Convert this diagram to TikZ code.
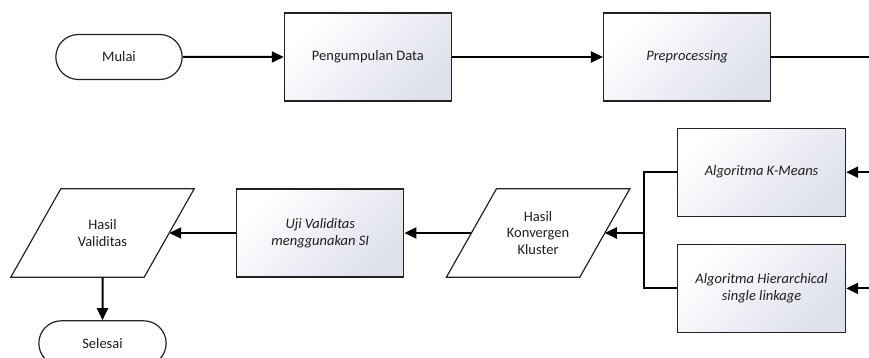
\documentclass[tikz,border=0pt]{standalone}
\usepackage{fontspec}
\setmainfont{Carlito}
\usetikzlibrary{shapes.misc, arrows.meta, positioning, calc}
\definecolor{boxShade}{RGB}{222,224,236}
\definecolor{lineDark}{RGB}{35,35,35}
\definecolor{textDark}{RGB}{30,30,30}
\tikzset{
    % Base Block Style
    process/.style={
        rectangle,
        minimum width=167pt,
        minimum height=88pt,
        align=center,
        font=\fontsize{14.5}{16.5}\selectfont,
        text=textDark,
        draw=lineDark,
        line width=1.2pt,
        top color=boxShade, bottom color=white, shading angle=225
    },
    processIt/.style={process, font=\fontsize{14.5}{16.5}\selectfont\itshape},
    % Start / End and Data Styles
    terminal/.style={
        rounded rectangle,
        minimum width=133pt,
        minimum height=45pt,
        font=\fontsize{14.5}{16.5}\selectfont,
        text=textDark,
        draw=lineDark,
        line width=1.2pt,
        fill=white
    },
    % Data (parallelogram) drawn around a plain rectangle node
    iobox/.style={
        rectangle,
        minimum width=133pt,
        minimum height=88pt,
        align=center,
        font=\fontsize{14.5}{16.5}\selectfont,
        text=textDark,
        append after command={\pgfextra{
            \draw [draw=lineDark, line width=1.2pt, line join=miter]
                ([xshift=-25pt]\tikzlastnode.south west) --
                ([xshift=25pt]\tikzlastnode.north west) --
                ([xshift=25pt]\tikzlastnode.north east) --
                ([xshift=-25pt]\tikzlastnode.south east) -- cycle;
        }}
    },
    % Arrow & Line Styles
    arrow/.style={-{Triangle[length=12pt, width=11pt]}, line width=2pt, draw=black},
    link/.style={line width=2pt, draw=black}
}

\begin{document}
\begin{tikzpicture}[x=1pt, y=1pt]

    \useasboundingbox (0,0) rectangle (869,358);
    \clip (0,0) rectangle (869,358);

    % --- TOP ROW ---
    \node (start) [terminal] at (119,301) {Mulai};
    \node (collect) [process, right=101pt of start] {Pengumpulan Data};
    \node (prep) [processIt, right=151pt of collect] {Preprocessing};

    % --- CLUSTERING (Right Column) ---
    \node (kmeans) [processIt, below=26pt of prep, xshift=74.5pt, minimum width=168pt] {Algoritma K-Means};
    \node (single) [processIt, below=27pt of kmeans, minimum width=168pt] {Algoritma Hierarchical\\single linkage};

    % --- BOTTOM ROW (Right to Left) ---
    \node (valRes) [iobox] at (102.5,125) {Hasil\\Validitas};
    \node (validity) [processIt, right=67pt of valRes] {Uji Validitas\\menggunakan SI};
    \node (cluster) [iobox, right=67pt of validity] {Hasil\\Konvergen\\Kluster};
    \node (finish) [terminal, below=43pt of valRes, minimum width=134pt] {Selesai};

    \coordinate (feed) at ($(prep.east)+(140,0)$);
    \coordinate (join) at ($(kmeans.west |- cluster)+(-33,0)$);

    % --- Arrows ---
    \draw [arrow] (start) -- (collect);
    \draw [arrow] (collect) -- (prep);
    \draw [link, line width=2.6pt] (prep) -- (feed);
    \draw [arrow] (feed) |- (kmeans.east);
    \draw [arrow] (feed) |- (single.east);
    \draw [link] (kmeans.west) -| (join);
    \draw [link] (single.west) -| (join);
    \draw [arrow] (join) -- (cluster.east);
    \draw [arrow] (cluster.west) -- (validity.east);
    \draw [arrow] (validity) -- (valRes.east);
    \draw [arrow] (valRes) -- (finish);

\end{tikzpicture}
\end{document}
